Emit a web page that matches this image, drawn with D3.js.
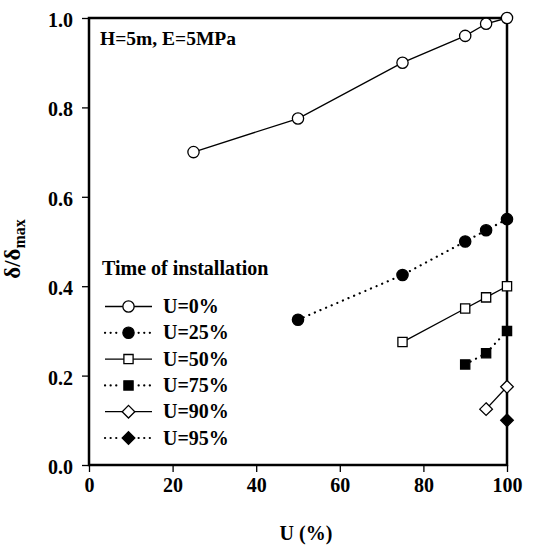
<!DOCTYPE html>
<html>
<head>
<meta charset="utf-8">
<script src="https://cdn.jsdelivr.net/npm/d3@7"></script>
<style>
  body { margin: 0; background: #fff; }
</style>
</head>
<body>
<svg width="536" height="547"></svg>
<script>
// series data: x = U (%), y = delta/delta_max
const U0  = [[25, 0.70], [50, 0.775], [75, 0.90], [90, 0.96], [95, 0.987], [100, 1.0]];
const U25 = [[50, 0.325], [75, 0.425], [90, 0.50], [95, 0.525], [100, 0.55]];
const U50 = [[75, 0.275], [90, 0.35], [95, 0.375], [100, 0.40]];
const U75 = [[90, 0.225], [95, 0.25], [100, 0.30]];
const U90 = [[95, 0.125], [100, 0.175]];
const U95 = [[100, 0.10]];

const seriesNames = ['U=0%', 'U=25%', 'U=50%', 'U=75%', 'U=90%', 'U=95%'];
const xTicks = [0, 20, 40, 60, 80, 100];
const yTicks = [0, 0.2, 0.4, 0.6, 0.8, 1.0];

const FONT = 'font-family:"Liberation Serif","Times New Roman",serif;font-weight:bold;';

// rotated square for the diamond markers
const diamond = {
  draw(ctx, size) {
    const h = Math.sqrt(size / 2);
    ctx.moveTo(0, -h); ctx.lineTo(h, 0); ctx.lineTo(0, h); ctx.lineTo(-h, 0); ctx.closePath();
  }
};

// style per series (shape, filled, dotted line)
const series = [
  {name: seriesNames[0], data: U0,  shape: d3.symbolCircle, fill: '#fff', dotted: false},
  {name: seriesNames[1], data: U25, shape: d3.symbolCircle, fill: '#000', dotted: true},
  {name: seriesNames[2], data: U50, shape: d3.symbolSquare, fill: '#fff', dotted: false},
  {name: seriesNames[3], data: U75, shape: d3.symbolSquare, fill: '#000', dotted: true},
  {name: seriesNames[4], data: U90, shape: diamond,         fill: '#fff', dotted: false},
  {name: seriesNames[5], data: U95, shape: diamond,         fill: '#000', dotted: true}
];

const svg = d3.select('svg');
const L = 89, R = 507, T = 18, B = 465;

const x = d3.scaleLinear().domain([0, 100]).range([L, R]);
const y = d3.scaleLinear().domain([0, 1]).range([B, T]);

// frame
svg.append('rect')
  .attr('x', L).attr('y', T).attr('width', R - L).attr('height', B - T)
  .attr('fill', 'none').attr('stroke', '#000').attr('stroke-width', 2.5);

// axes
const xAxis = svg.append('g').attr('transform', `translate(0,${B})`)
  .call(d3.axisBottom(x).tickValues(xTicks).tickSize(7).tickPadding(6).tickFormat(d3.format('d')));
const yAxis = svg.append('g').attr('transform', `translate(${L},0)`)
  .call(d3.axisLeft(y).tickValues(yTicks).tickSize(7).tickPadding(9).tickFormat(d3.format('.1f')));
[xAxis, yAxis].forEach(a => {
  a.select('.domain').remove();
  a.selectAll('line').attr('stroke', '#000').attr('stroke-width', 1.3);
  a.selectAll('text').attr('style', FONT + 'font-size:20px').attr('fill', '#000');
});
xAxis.selectAll('text').attr('dy', '0.71em');
yAxis.selectAll('text').attr('dy', '0.42em');

// axis titles
svg.append('text').attr('x', 306).attr('y', 540)
  .attr('text-anchor', 'middle').attr('style', FONT + 'font-size:20px').text('U (%)');

const yl = svg.append('text').attr('transform', 'translate(20,249) rotate(-90)')
  .attr('text-anchor', 'middle').attr('style', FONT + 'font-size:23px');
yl.append('tspan').text('δ/δ');
yl.append('tspan').attr('style', FONT + 'font-size:16px').attr('dy', 5).text('max');

// annotation
svg.append('text').attr('x', 100).attr('y', 45).attr('style', FONT + 'font-size:19.5px').text('H=5m, E=5MPa');

const line = d3.line().x(d => x(d[0])).y(d => y(d[1]));
const sizeOf = s => s === d3.symbolCircle ? 100 : (s === d3.symbolSquare ? 85 : 80);

series.forEach(s => {
  svg.append('path').datum(s.data)
    .attr('d', line).attr('fill', 'none').attr('stroke', '#000')
    .attr('stroke-width', s.dotted ? 2.2 : 1.3)
    .attr('stroke-linecap', s.dotted ? 'round' : 'butt')
    .attr('stroke-dasharray', s.dotted ? '0.1,6' : null);
  svg.selectAll(null).data(s.data).enter().append('path')
    .attr('transform', d => `translate(${x(d[0])},${y(d[1])})`)
    .attr('d', d3.symbol().type(s.shape).size(sizeOf(s.shape)))
    .attr('fill', s.fill).attr('stroke', '#000').attr('stroke-width', 1.3);
});

// legend
svg.append('text').attr('x', 102).attr('y', 275).attr('style', FONT + 'font-size:20px').text('Time of installation');
const lg = svg.selectAll('.lg').data(series).enter().append('g')
  .attr('class', 'lg')
  .attr('transform', (d, i) => `translate(105,${306.5 + i * 26.3})`);
lg.append('line').attr('x1', 0).attr('x2', 47).attr('y1', 0).attr('y2', 0)
  .attr('stroke', '#000')
  .attr('stroke-width', d => d.dotted ? 2.2 : 1.3)
  .attr('stroke-linecap', d => d.dotted ? 'round' : 'butt')
  .attr('stroke-dasharray', d => d.dotted ? '0.1,5.5' : null);
// white gap behind the marker for the dotted entries
lg.filter(d => d.dotted).append('rect')
  .attr('x', 15).attr('y', -6).attr('width', 17).attr('height', 12).attr('fill', '#fff');
lg.append('path').attr('transform', 'translate(23.5,0)')
  .attr('d', d => d3.symbol().type(d.shape).size(sizeOf(d.shape))())
  .attr('fill', d => d.fill).attr('stroke', '#000').attr('stroke-width', 1.3);
lg.append('text').attr('x', 58).attr('y', 6.5).attr('style', FONT + 'font-size:20px').text(d => d.name);
</script>
</body>
</html>
